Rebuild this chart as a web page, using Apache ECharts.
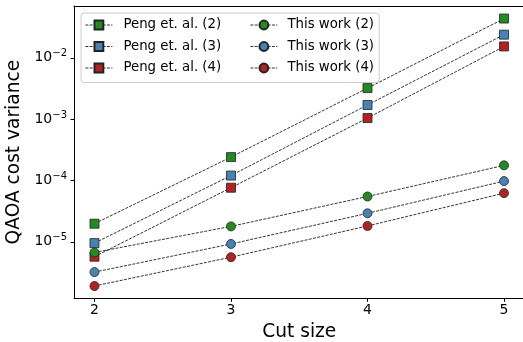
<!DOCTYPE html>
<html>
<head>
<meta charset="utf-8">
<script src="https://cdn.jsdelivr.net/npm/echarts@6/dist/echarts.min.js"></script>
<style>html,body{margin:0;padding:0;background:#fff;overflow:hidden}#c{width:523px;height:342px}</style>
</head>
<body>
<div id="c"></div>
<script>
const cutSizes = [2, 3, 4, 5];
const peng2 = [1.97e-5, 2.4e-4, 3.2e-3, 4.36e-2];
const peng3 = [9.5e-6, 1.2e-4, 1.7e-3, 2.38e-2];
const peng4 = [5.7e-6, 7.6e-5, 1.04e-3, 1.53e-2];
const this2 = [6.7e-6, 1.78e-5, 5.47e-5, 1.76e-4];
const this3 = [3.2e-6, 9.2e-6, 2.91e-5, 9.75e-5];
const this4 = [1.9e-6, 5.6e-6, 1.81e-5, 6.2e-5];
const yMajorTicks = [1e-5, 1e-4, 1e-3, 1e-2];

const FONT = 'DejaVu Sans';
const GREEN = '#228B22', BLUE = '#4682B4', RED = '#B22222';
const DASH = [3, 1.3];

function mk(name, data, color, symbol) {
  return {
    name, type: 'line', xAxisIndex: 0, yAxisIndex: 0,
    data: cutSizes.map((x, i) => [x, data[i]]),
    symbol, symbolSize: 9,
    itemStyle: { color, borderColor: '#222', borderWidth: 0.8 },
    lineStyle: { color: '#000', width: 0.8, type: DASH },
    emphasis: { disabled: true }
  };
}

const legendCommon = {
  orient: 'vertical', top: 13,
  itemWidth: 27, itemHeight: 11, itemGap: 8.5,
  lineStyle: { color: '#000', width: 0.8, type: DASH },
};

const chart = echarts.init(document.getElementById('c'), null, { renderer: 'canvas' });
chart.setOption({
  animation: false,
  textStyle: { fontFamily: FONT },
  grid: { left: 74, top: 6, width: 450.5, height: 292.3, outerBoundsMode: 'none', containLabel: false, show: false },
  xAxis: [{
    type: 'value', min: 1.85, max: 5.15,
    name: 'Cut size', nameLocation: 'middle', nameGap: 21,
    nameTextStyle: { fontSize: 18.6, color: '#000', fontFamily: FONT },
    axisLine: { lineStyle: { color: '#000', width: 1 } },
    axisTick: { customValues: cutSizes, length: 3.5, lineStyle: { color: '#000' } },
    axisLabel: { customValues: cutSizes, fontSize: 14, color: '#000', margin: 5, fontFamily: FONT },
    splitLine: { show: false }
  }, {
    type: 'value', min: 1.85, max: 5.15, position: 'top',
    axisLine: { show: true, lineStyle: { color: '#000', width: 1 } },
    axisTick: { show: false }, axisLabel: { show: false }, splitLine: { show: false }
  }],
  yAxis: [{
    type: 'log', min: 1.197e-6, max: 0.0698, logBase: 10,
    name: 'QAOA cost variance', nameLocation: 'middle', nameGap: 49, nameRotate: 90,
    nameTextStyle: { fontSize: 18.6, color: '#000', fontFamily: FONT },
    axisLine: { show: true, lineStyle: { color: '#000', width: 1 } },
    axisTick: { show: true, customValues: yMajorTicks, length: 3.5, lineStyle: { color: '#000' } },
    axisLabel: {
      customValues: yMajorTicks, margin: 7, color: '#000', fontFamily: FONT,
      formatter: v => '{b|10}{s|−' + Math.abs(Math.round(Math.log10(v))) + '}',
      rich: {
        b: { fontSize: 14, fontFamily: FONT, color: '#000' },
        s: { fontSize: 10, fontFamily: FONT, color: '#000', padding: [0, 0, 8, 0] }
      }
    },
    splitLine: { show: false }
  }],
  legend: [Object.assign({}, legendCommon, {
    left: 81,
    data: ['Peng et. al. (2)', 'Peng et. al. (3)', 'Peng et. al. (4)'],
    padding: [5.5, 158, 8, 4],
    backgroundColor: '#fff', borderColor: '#cccccc', borderWidth: 1, borderRadius: 3,
    textStyle: { fontSize: 13.3, color: '#000', fontFamily: FONT, lineHeight: 11, padding: [0, 0, 0, 6] },
    z: 10
  }), Object.assign({}, legendCommon, {
    left: 250,
    data: ['This work (2)', 'This work (3)', 'This work (4)'],
    padding: [5.5, 4, 8, 0],
    textStyle: { fontSize: 13.3, color: '#000', fontFamily: FONT, lineHeight: 11, padding: [0, 0, 0, 5] },
    z: 11
  })],
  series: [
    mk('Peng et. al. (2)', peng2, GREEN, 'rect'),
    mk('Peng et. al. (3)', peng3, BLUE, 'rect'),
    mk('Peng et. al. (4)', peng4, RED, 'rect'),
    mk('This work (2)', this2, GREEN, 'circle'),
    mk('This work (3)', this3, BLUE, 'circle'),
    mk('This work (4)', this4, RED, 'circle')
  ]
});
</script>
</body>
</html>
